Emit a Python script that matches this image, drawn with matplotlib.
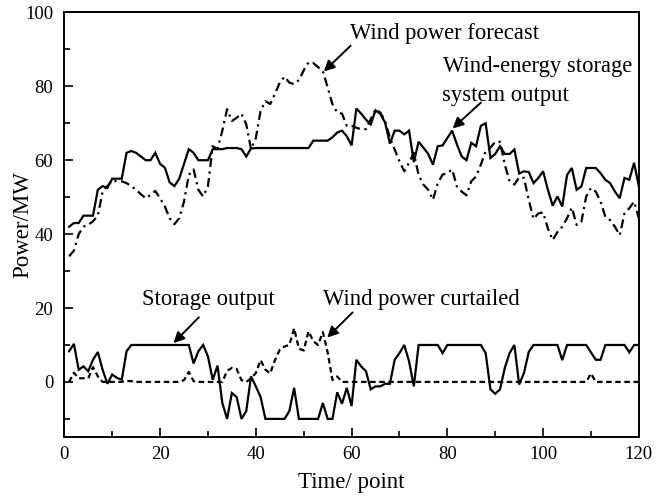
import numpy as np
import matplotlib
matplotlib.use("Agg")
import matplotlib.pyplot as plt

plt.rcParams['font.family'] = ['Liberation Serif', 'DejaVu Serif']
plt.rcParams['mathtext.fontset'] = 'stix'

time_points = list(range(1, 121))

wind_storage_output = [
    42, 43, 43, 45, 45, 45, 52, 53, 52.5, 55,
    55, 55, 62, 62.5, 62, 61, 60, 60, 62, 59,
    58, 54, 53, 55, 59, 63, 62, 60, 60, 60,
    63, 63, 63, 63.3, 63.3, 63.3, 63, 61, 63.2, 63.3,
    63.3, 63.3, 63.3, 63.3, 63.3, 63.3, 63.3, 63.3, 63.3, 63.3,
    63.3, 65.3, 65.3, 65.3, 65.3, 66.2, 67.5, 68, 66.5, 64,
    74, 72.6, 71, 69.7, 73.5, 72.5, 70.2, 64.5, 68, 68,
    67, 68, 59.5, 65, 63.4, 61.7, 58.8, 63.8, 64, 66,
    68, 64.3, 61, 60, 64.7, 63.8, 69.3, 70, 60.6, 61.7,
    63.8, 61.7, 61.7, 62.9, 56.4, 57, 56.8, 53.8, 55.2, 57,
    52, 47.7, 50.2, 47.5, 56, 57.9, 52, 52.9, 57.9, 57.9,
    57.9, 56.5, 54.7, 53.8, 51.5, 49.7, 55.2, 54.7, 59.3, 52.9,
]

wind_forecast = [
    34, 35.5, 40, 42, 42.5, 43.5, 45, 51.5, 53, 54.5,
    54.3, 54.3, 53.8, 53, 52, 50.8, 49.7, 50.6, 51.7, 49.7,
    47.5, 44.3, 42.7, 44.3, 48.8, 56, 57.5, 52, 50.2, 53,
    63.8, 63, 68, 73.8, 70.6, 71.5, 72.6, 69.7, 63, 66,
    73.4, 76, 75.2, 78, 81, 82.6, 81, 80.6, 81.7, 84.3,
    86.5, 86.3, 85.2, 84.1, 79.7, 75.2, 72.9, 72.6, 69.3, 69.3,
    68.8, 68.4, 68.4, 71.1, 73.8, 72.9, 70.6, 66.1, 62.9, 59.7,
    57, 59.3, 62, 56, 53.4, 52, 49.3, 53.8, 56.1, 56.5,
    57.5, 52.9, 51.5, 50.5, 54.3, 55.6, 58.8, 62.5, 63.4, 65,
    65, 58.8, 54.3, 53.4, 55.4, 55.2, 49.3, 44.1, 45.6, 45.9,
    41.5, 38.4, 40.6, 42, 44.3, 47.2, 42.5, 43.4, 50.2, 52.5,
    51.5, 48.8, 44.7, 43.8, 42, 39.7, 45.6, 47, 48.8, 44.3,
]

storage_output = [
    8.3, 10.3, 3.3, 4.2, 2.9, 6, 8.1, 3.3, -0.5, 2,
    1.1, 0.6, 8.3, 10, 10, 10, 10, 10, 10, 10,
    10, 10, 10, 10, 10, 10, 5, 8.3, 10, 6.9,
    0.6, 4.4, -5.7, -10, -3, -4.1, -10, -7.9, 1.5, -1.2,
    -4.1, -10, -10, -10, -10, -10, -7.9, -1.6, -10, -10,
    -10, -10, -10, -5.7, -10, -10, -2.8, -5.9, -1.6, -6.5,
    6, 4.2, 2.9, -2, -1.2, -1.2, -0.5, -0.5, 6, 7.8,
    10, 5.6, -1.2, 10, 10, 10, 10, 10, 7.8, 10,
    10, 10, 10, 10, 10, 10, 10, 7.8, -2, -3.2,
    -2, 3.8, 7.8, 10, -0.7, 2.4, 8.1, 10, 10, 10,
    10, 10, 10, 5.9, 10, 10, 10, 10, 10, 8,
    6, 6, 10, 10, 10, 10, 10, 8, 10, 10,
]

wind_curtailed = [
    0, 2.5, 1, 1, 1, 4, 1.5, 0, 0, 0,
    0, 0, 0.3, 0.2, 0, 0, 0, 0, 0, 0,
    0, 0, 0, 0, 0.5, 2.7, 0.2, 0, 0, 0,
    0, 0, 0, 3, 3.8, 3.5, 0.5, 0, 1, 2.4,
    5.9, 3.3, 2.3, 5.9, 8.7, 9.6, 10, 14.5, 9, 8.5,
    13.7, 11, 10, 13.5, 8, 0.5, 1.5, 0, 0, 0,
    0, 0, 0, 0, 0, 0, 0, 0, 0, 0,
    0, 0, 0, 0, 0, 0, 0, 0, 0, 0,
    0, 0, 0, 0, 0, 0, 0, 0, 0, 0,
    0, 0, 0, 0, 0, 0, 0, 0, 0, 0,
    0, 0, 0, 0, 0, 0, 0, 0, 0, 2.3,
    0, 0, 0, 0, 0, 0, 0, 0, 0, 0,
]

x_ticks = [0, 20, 40, 60, 80, 100, 120]
y_ticks = [0, 20, 40, 60, 80, 100]

fig = plt.figure(figsize=(6.65, 4.97), dpi=100)
ax = fig.add_axes([0.0967, 0.120, 0.864, 0.855])

lw = 1.6
ax.plot(time_points, wind_storage_output, color='k', lw=lw, solid_joinstyle='miter')
ax.plot(time_points, wind_forecast, color='k', lw=lw, dashes=(4, 2, 1, 2))
ax.plot(time_points, storage_output, color='k', lw=lw, solid_joinstyle='miter')
ax.plot(time_points, wind_curtailed, color='k', lw=lw, dashes=(2.5, 1.6))

ax.set_xlim(0, 120)
ax.set_ylim(-15, 100)
ax.set_xticks(x_ticks)
ax.set_yticks(y_ticks)
ax.set_xticks(range(10, 120, 20), minor=True)
ax.set_yticks(range(-10, 100, 20), minor=True)
ax.tick_params(which='both', direction='in', top=False, right=False, labelsize=13.5, width=1.2)
ax.tick_params(which='major', length=6.5)
ax.tick_params(axis='x', which='major', pad=6)
ax.tick_params(axis='y', which='major', pad=8)
ax.tick_params(which='minor', length=4)
for s in ax.spines.values():
    s.set_linewidth(1.4)

ax.set_xlabel('Time/ point', fontsize=16.5, labelpad=7)
ax.set_ylabel('Power/MW', fontsize=16.5)
ax.yaxis.set_label_coords(-0.054, 0.5)

fs = 16.3
ap = dict(arrowstyle='-|>', color='k', lw=1.4, mutation_scale=16, shrinkA=0, shrinkB=0)
ax.text(59.6, 94.4, 'Wind power forecast', fontsize=fs, ha='left', va='center')
ax.annotate('', xy=(54.2, 84), xytext=(59.8, 91.0), arrowprops=ap)
ax.text(79, 85.3, 'Wind-energy storage', fontsize=fs, ha='left', va='center')
ax.text(78.8, 77.6, 'system output', fontsize=fs, ha='left', va='center')
ax.annotate('', xy=(81.1, 68.6), xytext=(87, 75.6), arrowprops=ap)
ax.text(16.2, 22.4, 'Storage output', fontsize=fs, ha='left', va='center')
ax.annotate('', xy=(22.8, 10.5), xytext=(28.1, 17.5), arrowprops=ap)
ax.text(54, 22.4, 'Wind power curtailed', fontsize=fs, ha='left', va='center')
ax.annotate('', xy=(54.9, 12.0), xytext=(60.2, 18.8), arrowprops=ap)

fig.savefig('out.png', dpi=100)
